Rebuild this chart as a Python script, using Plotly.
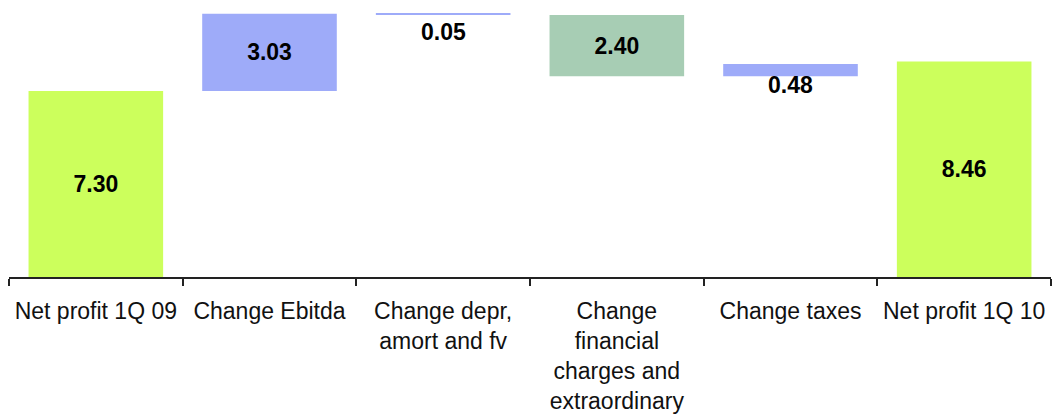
import plotly.graph_objects as go

categories = ["Net profit 1Q 09", "Change Ebitda", "Change depr,<br>amort and fv",
              "Change<br>financial<br>charges and<br>extraordinary", "Change taxes", "Net profit 1Q 10"]
values = [7.30, 3.03, -0.05, -2.40, 0.48, 8.46]
measures = ["absolute", "relative", "relative", "relative", "relative", "absolute"]
labels = ["7.30", "3.03", "0.05", "2.40", "0.48", "8.46"]
colors = ["#CCFF5C", "#9EABF9", "#9EABF9", "#A7CDB4", "#9EABF9", "#CCFF5C"]
label_inside = [True, True, False, True, False, True]
outside_shift = [0, 0, -2, 0, 6, 0]

# compute bases from running total
bases, heights = [], []
running = 0.0
for v, m in zip(values, measures):
    if m == "absolute":
        bases.append(0.0)
        heights.append(v)
        running = v
    else:
        bases.append(running)
        heights.append(v)
        running += v

FONT = "Arial, Liberation Sans, sans-serif"

fig = go.Figure()
fig.add_trace(go.Bar(
    x=categories, y=heights, base=bases,
    marker=dict(color=colors, line=dict(width=0)),
    text=[t if ins else "" for t, ins in zip(labels, label_inside)],
    textposition="inside", insidetextanchor="middle", textangle=0,
    insidetextfont=dict(family=FONT, size=23, color="black", weight="bold"),
    hoverinfo="skip", showlegend=False,
))

for c, b, h, t, ins, s in zip(categories, bases, heights, labels, label_inside, outside_shift):
    if not ins:
        fig.add_annotation(x=c, y=min(b, b + h), text="<b>%s</b>" % t, showarrow=False,
                           yanchor="top", yshift=s,
                           font=dict(family=FONT, size=23, color="black"))

fig.update_layout(
    width=1060, height=416, autosize=False,
    margin=dict(l=9, r=9, t=10, b=139),
    paper_bgcolor="white", plot_bgcolor="white",
    bargap=0.225,
    font=dict(family=FONT, size=23, color="black"),
    xaxis=dict(type="category", showline=True, linecolor="#222222", linewidth=1.5,
               ticks="outside", tickson="boundaries", ticklen=7, tickwidth=1.5, tickcolor="#222222",
               ticklabelstandoff=13, automargin=False,
               showgrid=False, zeroline=False,
               tickfont=dict(family=FONT, size=23, color="#111111")),
    yaxis=dict(visible=False, range=[0, 10.48], fixedrange=True, automargin=False),
)

fig.write_html("out.html")
